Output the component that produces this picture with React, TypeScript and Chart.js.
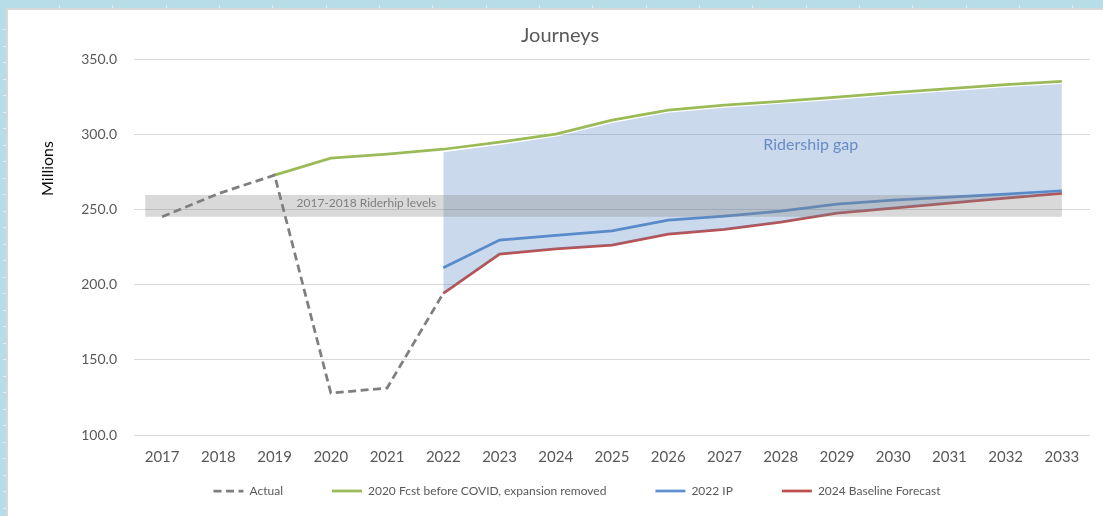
import React, { useEffect, useRef } from "react";
import { Chart, registerables } from "chart.js";

Chart.register(...registerables);

// ---------- data ----------
const years = ["2017", "2018", "2019", "2020", "2021", "2022", "2023", "2024", "2025", "2026", "2027", "2028", "2029", "2030", "2031", "2032", "2033"];
const actual = [245.1, 260.5, 272.8, 127.9, 131.2, 194.2, null, null, null, null, null, null, null, null, null, null, null];
const fcst2020 = [null, null, 272.8, 284.1, 286.7, 290.0, 294.7, 300.0, 309.3, 316.0, 319.3, 321.9, 324.6, 327.6, 330.3, 332.9, 335.2];
const ip2022 = [null, null, null, null, null, 211.2, 229.6, 232.8, 235.7, 242.9, 245.5, 248.8, 253.5, 256.1, 258.1, 260.1, 262.4];
const baseline2024 = [null, null, null, null, null, 194.2, 220.3, 223.8, 226.2, 233.6, 236.7, 241.5, 247.5, 250.8, 254.2, 257.5, 260.7];
const gapTop = [null, null, null, null, null, 288.0, 292.9, 298.3, 307.5, 314.2, 317.6, 320.2, 322.9, 325.9, 328.5, 331.2, 333.4];
const levelBand = [245.1, 259.6];
const seriesNames = ["Actual", "2020 Fcst before COVID, expansion removed", "2022 IP", "2024 Baseline Forecast", "Ridership gap area"];
const yRange = [100, 350];
const yStep = 50;
const titleText = "Journeys";
const yTitleText = "Millions";
const gapLabel = "Ridership gap";
const bandLabel = "2017-2018 Riderhip levels";

const FONT = "Lato, 'Noto Sans', sans-serif";

const overlayPlugin = {
  id: "overlay",
  afterLayout(chart: any) {
    const lg = chart.legend;
    if (lg) {
      lg.top = chart.chartArea.bottom + 1;
      lg.bottom = chart.height;
      lg.height = lg.bottom - lg.top;
    }
  },
  afterDatasetsDraw(chart: any) {
    const { ctx, scales } = chart;
    const x = scales.x;
    const y = scales.y;
    const step = x.getPixelForValue(1) - x.getPixelForValue(0);
    const left = x.getPixelForValue(0) - 0.3 * step;
    const right = x.getPixelForValue(years.length - 1);
    const top = y.getPixelForValue(levelBand[1]);
    const bottom = y.getPixelForValue(levelBand[0]);
    ctx.save();
    ctx.fillStyle = "rgba(128,128,128,0.3)";
    ctx.fillRect(left, top, right - left, bottom - top);

    ctx.fillStyle = "#7f7f7f";
    ctx.font = `12px ${FONT}`;
    ctx.textAlign = "left";
    ctx.textBaseline = "alphabetic";
    ctx.fillText(bandLabel, x.getPixelForValue(2) + 0.39 * step, y.getPixelForValue(251.5));

    ctx.fillStyle = "#6a8cc4";
    ctx.font = `16px ${FONT}`;
    ctx.textAlign = "center";
    ctx.fillText(gapLabel, (x.getPixelForValue(11) + x.getPixelForValue(12)) / 2 + 2, y.getPixelForValue(289.6));
    ctx.restore();
  },
  afterDraw(chart: any) {
    const { ctx } = chart;
    ctx.save();
    ctx.fillStyle = "#595959";
    ctx.font = `20px ${FONT}`;
    ctx.textAlign = "center";
    ctx.textBaseline = "alphabetic";
    ctx.fillText(titleText, 560, 41.5);

    ctx.translate(47.5, 168.5);
    ctx.rotate(-Math.PI / 2);
    ctx.fillStyle = "#0d0d0d";
    ctx.font = `16px ${FONT}`;
    ctx.textAlign = "center";
    ctx.textBaseline = "middle";
    ctx.fillText(yTitleText, 0, 0);
    ctx.restore();
  },
};

function ChartView() {
  const ref = useRef<HTMLCanvasElement | null>(null);
  useEffect(() => {
    let chart: Chart | null = null;
    let cancelled = false;
    const make = () => {
      if (cancelled || !ref.current) return;
      chart = new Chart(ref.current, {
        type: "line",
        data: {
          labels: years,
          datasets: [
            {
              label: seriesNames[0],
              data: actual,
              borderColor: "#7f7f7f",
              backgroundColor: "#7f7f7f",
              borderWidth: 2.75,
              borderDash: [8, 4.5],
              pointRadius: 0,
              fill: false,
              order: 0,
            },
            {
              label: seriesNames[1],
              data: fcst2020,
              borderColor: "#9bbb59",
              backgroundColor: "#9bbb59",
              borderWidth: 2.75,
              pointRadius: 0,
              fill: false,
              order: 0,
            },
            {
              label: seriesNames[2],
              data: ip2022,
              borderColor: "#5e90d0",
              backgroundColor: "#5e90d0",
              borderWidth: 2.75,
              pointRadius: 0,
              fill: false,
              order: 2,
            },
            {
              label: seriesNames[3],
              data: baseline2024,
              borderColor: "#c0504d",
              backgroundColor: "#c0504d",
              borderWidth: 2.75,
              pointRadius: 0,
              fill: false,
              order: 2,
            },
            {
              label: seriesNames[4],
              data: gapTop,
              borderColor: "rgba(0,0,0,0)",
              backgroundColor: "rgba(79,129,189,0.3)",
              borderWidth: 0,
              pointRadius: 0,
              fill: 3,
              order: 1,
            },
          ],
        },
        options: {
          responsive: false,
          animation: false,
          events: [],
          devicePixelRatio: 1,
          layout: { padding: { top: 59, left: 64, right: 13, bottom: 10 } },
          scales: {
            x: {
              type: "category",
              offset: true,
              grid: { display: false, drawTicks: false },
              border: { display: false },
              ticks: {
                color: "#595959",
                font: { family: FONT, size: 15 },
                padding: 13,
                maxRotation: 0,
                autoSkip: false,
              },
              afterFit(scale: any) {
                scale.height = 31;
              },
            },
            y: {
              min: yRange[0],
              max: yRange[1],
              grid: { color: "#d9d9d9", lineWidth: 1, drawTicks: false },
              border: { display: false },
              ticks: {
                stepSize: yStep,
                color: "#595959",
                font: { family: FONT, size: 14 },
                padding: 17,
                callback: (v: any) => Number(v).toFixed(1),
              },
              afterFit(scale: any) {
                scale.width = 70;
              },
            },
          },
          plugins: {
            title: { display: false },
            tooltip: { enabled: false },
            legend: {
              display: true,
              position: "bottom",
              maxHeight: 40,
              labels: {
                color: "#595959",
                font: { family: FONT, size: 12 },
                usePointStyle: true,
                pointStyle: "line",
                pointStyleWidth: 30,
                padding: 49,
                generateLabels: (c: any) =>
                  (Chart.defaults.plugins.legend.labels.generateLabels as any)(c)
                    .filter((item: any) => item.datasetIndex < 4)
                    .map((item: any) => {
                      const ds = c.data.datasets[item.datasetIndex];
                      return {
                        ...item,
                        lineDash: ds.borderDash || [],
                        lineWidth: 2.75,
                        strokeStyle: ds.borderColor,
                        fillStyle: ds.borderColor,
                        pointStyle: "line",
                      };
                    }),
              },
            },
          },
        },
        plugins: [overlayPlugin],
      } as any);
    };
    const fontsApi = (document as any).fonts;
    if (fontsApi && fontsApi.load) {
      Promise.all([
        fontsApi.load(`12px Lato`),
        fontsApi.load(`15px Lato`),
      ]).then(make, make);
    } else {
      make();
    }
    return () => {
      cancelled = true;
      if (chart) chart.destroy();
    };
  }, []);
  return (
    <canvas
      ref={ref}
      width={1103}
      height={516}
      style={{ position: "absolute", left: 0, top: 0, width: 1103, height: 516, zIndex: 2 }}
    />
  );
}

const topTicks = Array.from({ length: 21 }, (_, i) => i);
const leftTicks = Array.from({ length: 31 }, (_, i) => i);

export default function App() {
  useEffect(() => {
    document.body.style.margin = "0";
  }, []);
  return (
    <div style={{ position: "relative", width: 1103, height: 516, overflow: "hidden", background: "#b6dde8" }}>
      <style>{`body{margin:0}`}</style>
      {topTicks.map((i) => (
        <div
          key={"t" + i}
          style={{ position: "absolute", left: Math.round(59 + 53.33 * i), top: 5, width: 1, height: 4, background: "#e3ebee" }}
        />
      ))}
      {leftTicks.map((i) => (
        <div
          key={"l" + i}
          style={{ position: "absolute", left: 3, top: Math.round(29 + 16.5 * i), width: 3, height: 1, background: "#e3ebee" }}
        />
      ))}
      <div
        style={{
          position: "absolute",
          left: 6,
          top: 8,
          width: 1120,
          height: 530,
          background: "#ffffff",
          borderTop: "2px solid #d8d8d8",
          borderLeft: "2px solid #d8d8d8",
          zIndex: 1,
        }}
      />
      <ChartView />
    </div>
  );
}
